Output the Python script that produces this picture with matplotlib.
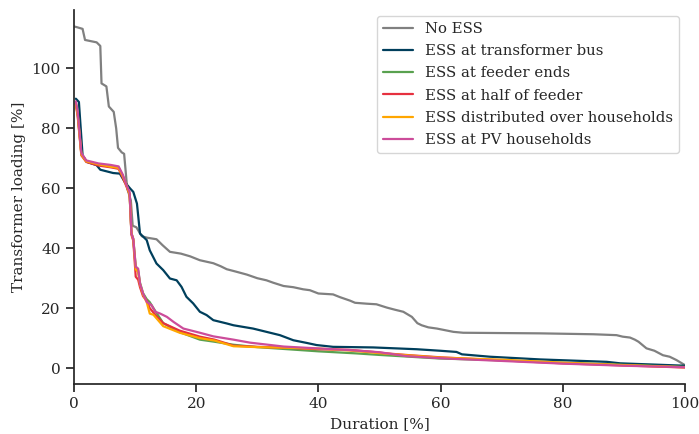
import matplotlib
matplotlib.use("Agg")
import matplotlib.pyplot as plt
import seaborn as sns

sns.set_theme(style="ticks", context="notebook")
plt.rcParams['font.family'] = ['DejaVu Serif']

labels = ["No ESS", "ESS at transformer bus", "ESS at feeder ends",
          "ESS at half of feeder", "ESS distributed over households", "ESS at PV households"]
colors = ["#808080", "#003f5c", "#59a14f", "#e6303f", "#ffa600", "#cc4c9a"]

no_ess_x = [0.0, 0.4, 1.4, 1.8, 3.7, 4.3, 4.5, 5.3, 5.7, 6.5, 6.9, 7.2, 7.8, 8.2, 8.7, 9.3, 9.6, 10.2,
            11.1, 12.0, 13.5, 14.5, 15.7, 17.5, 19.0, 20.6, 22.8, 24.0, 25.0, 26.5, 28.3, 30.0, 31.5,
            32.6, 34.3, 35.9, 37.5, 38.6, 40.0, 42.4, 43.5, 45.2, 46.0, 47.9, 49.5, 51.2, 52.5, 53.9,
            55.3, 56.2, 56.9, 58.0, 59.4, 62.1, 63.7, 76.3, 85.0, 88.8, 89.8, 91.0, 91.8, 92.4, 93.7,
            95.0, 96.4, 97.5, 98.6, 100.0]
no_ess_y = [114.0, 113.8, 113.2, 109.5, 108.7, 107.5, 95.0, 94.0, 87.3, 85.5, 80.0, 73.5, 72.0, 71.5,
            60.0, 56.0, 47.5, 47.0, 44.0, 43.5, 43.0, 41.0, 38.8, 38.2, 37.3, 36.0, 35.0, 34.0, 33.0,
            32.2, 31.2, 30.0, 29.3, 28.5, 27.4, 27.0, 26.3, 26.0, 24.9, 24.6, 23.7, 22.5, 21.8, 21.5,
            21.3, 20.2, 19.5, 18.8, 17.1, 15.0, 14.3, 13.6, 13.2, 12.1, 11.8, 11.6, 11.3, 11.0, 10.5,
            10.2, 9.5, 8.8, 6.6, 5.8, 4.3, 3.8, 2.7, 1.0]

trafo_x = [0.3, 0.8, 1.4, 2.1, 3.7, 4.3, 6.4, 7.5, 8.3, 9.2, 9.7, 10.3, 10.8, 11.9, 12.4, 13.5, 14.6,
           15.7, 16.8, 17.6, 18.4, 19.5, 20.6, 21.7, 22.8, 25.0, 26.1, 29.3, 31.5, 33.7, 35.9, 38.1,
           39.7, 42.4, 49.0, 56.1, 59.9, 62.6, 63.5, 68.1, 76.3, 87.2, 89.4, 100.0]
trafo_y = [89.9, 88.8, 71.0, 68.8, 67.7, 66.2, 65.1, 64.9, 62.1, 59.9, 58.8, 54.9, 44.9, 42.7, 39.3,
           34.9, 32.7, 29.9, 29.3, 27.1, 23.8, 21.6, 18.8, 17.7, 16.0, 14.9, 14.3, 13.2, 12.1, 11.0,
           9.3, 8.4, 7.7, 7.1, 6.9, 6.3, 5.8, 5.4, 4.6, 3.8, 2.9, 2.1, 1.6, 0.8]

feeder_end_x = [0.3, 0.6, 1.2, 2.0, 4.0, 6.0, 7.3, 8.0, 8.6, 9.1, 9.4, 9.7, 10.1, 10.5, 10.8, 11.3, 11.9,
                12.4, 13.0, 14.6, 17.3, 20.6, 23.0, 26.1, 30.0, 35.0, 40.0, 46.3, 50.0, 59.9, 70.0,
                80.0, 90.0, 100.0]
feeder_end_y = [88.5, 85.0, 71.5, 69.0, 68.0, 67.3, 66.8, 64.0, 61.0, 58.0, 45.0, 43.0, 34.0, 32.5,
                28.5, 25.0, 23.0, 22.0, 20.0, 15.0, 12.0, 9.5, 8.8, 7.8, 7.0, 6.3, 5.6, 4.9, 4.4, 3.2,
                2.6, 1.8, 1.1, 0.4]

half_feeder_x = [0.3, 0.6, 1.2, 2.0, 4.0, 6.0, 7.3, 8.0, 8.6, 9.1, 9.4, 9.7, 10.1, 10.5, 10.8, 11.3,
                 11.9, 12.4, 13.3, 14.6, 17.3, 20.6, 23.0, 26.1, 30.0, 35.0, 40.0, 45.0, 49.0, 51.2,
                 55.0, 60.0, 70.0, 80.0, 90.0, 100.0]
half_feeder_y = [88.0, 84.0, 71.0, 68.8, 67.6, 67.0, 66.5, 63.5, 60.5, 58.0, 44.5, 42.5, 30.5, 29.5,
                 27.0, 24.0, 22.5, 20.0, 17.8, 15.0, 12.5, 10.5, 9.5, 7.5, 7.1, 6.8, 6.3, 6.1, 5.4,
                 4.9, 4.3, 3.6, 2.6, 1.6, 0.9, 0.2]

distributed_x = [0.3, 0.6, 1.2, 2.0, 4.0, 6.0, 7.3, 8.0, 8.6, 9.1, 9.4, 9.7, 10.1, 10.5, 10.8, 11.3,
                 11.9, 12.4, 13.0, 14.6, 17.3, 20.6, 23.0, 26.1, 30.0, 35.0, 40.3, 45.0, 50.0, 54.4,
                 60.0, 70.0, 80.0, 90.0, 100.0]
distributed_y = [88.3, 84.5, 71.3, 69.0, 68.0, 67.2, 66.8, 64.0, 61.0, 58.0, 45.0, 43.0, 33.0, 32.0,
                 28.0, 24.5, 22.0, 18.2, 17.8, 14.0, 11.8, 10.0, 9.2, 7.3, 7.0, 6.8, 6.5, 5.9, 5.0,
                 4.3, 3.5, 2.8, 1.8, 1.0, 0.3]

pv_x = [0.3, 0.6, 1.2, 2.0, 4.0, 6.0, 7.3, 8.0, 8.6, 9.1, 9.4, 9.7, 10.1, 10.5, 10.8, 11.3, 11.9, 12.7,
        13.3, 14.1, 15.2, 16.3, 17.9, 20.6, 22.8, 26.1, 28.8, 34.3, 39.7, 45.2, 50.0, 54.4, 60.0,
        70.0, 80.0, 90.0, 100.0]
pv_y = [89.0, 85.5, 71.8, 69.3, 68.3, 67.8, 67.3, 64.5, 61.0, 58.8, 44.9, 43.2, 33.8, 33.2, 28.2,
        24.9, 22.1, 21.0, 18.8, 18.2, 17.1, 15.4, 13.2, 11.8, 10.6, 9.5, 8.5, 7.2, 6.6, 6.0, 5.3,
        4.0, 3.3, 2.4, 1.5, 0.8, 0.3]

series_x = [no_ess_x, trafo_x, feeder_end_x, half_feeder_x, distributed_x, pv_x]
series_y = [no_ess_y, trafo_y, feeder_end_y, half_feeder_y, distributed_y, pv_y]

fig = plt.figure(figsize=(6.99, 4.34), dpi=100)
ax = fig.add_axes([0.1059, 0.1152, 0.874, 0.8618])
for xs, ys, lab, col in zip(series_x, series_y, labels, colors):
    ax.plot(xs, ys, color=col, lw=1.6, label=lab)

ax.set_xlim(0, 100)
ax.set_ylim(-5.3, 119.5)
ax.set_xticks([0, 20, 40, 60, 80, 100])
ax.set_yticks([0, 20, 40, 60, 80, 100])
ax.set_xlabel("Duration [%]", fontsize=11)
ax.set_ylabel("Transformer loading [%]", fontsize=11)
ax.tick_params(labelsize=11)
sns.despine(ax=ax)
ax.legend(loc="upper right", fontsize=10.75, frameon=True, labelspacing=0.55,
          bbox_to_anchor=(1.0, 1.0), borderaxespad=0.4)

fig.savefig("out.png", dpi=100)
